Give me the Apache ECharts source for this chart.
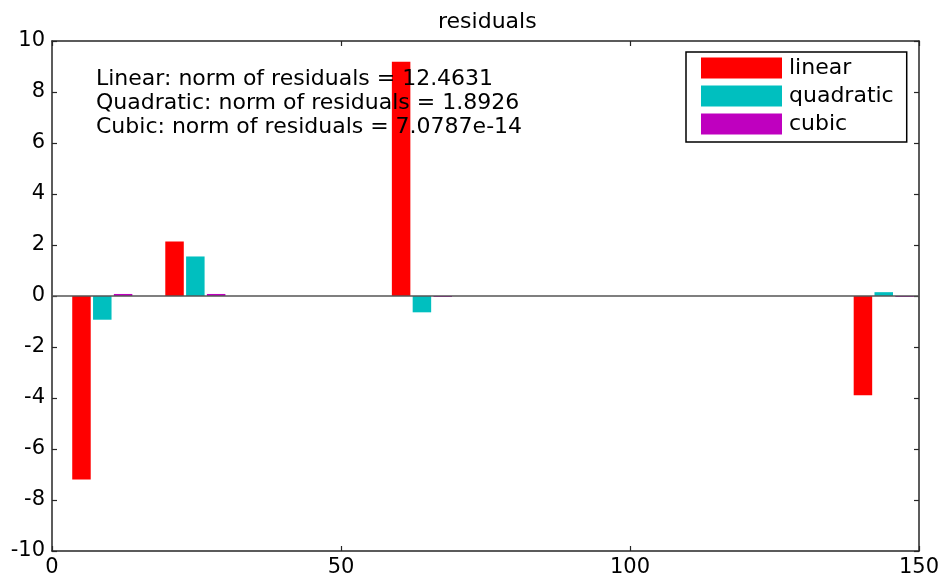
<!DOCTYPE html>
<html>
<head>
<meta charset="utf-8">
<script src="https://cdn.jsdelivr.net/npm/echarts@6/dist/echarts.min.js"></script>
<style>
  html, body { margin: 0; padding: 0; background: #fff; }
  #chart { width: 945px; height: 578px; }
</style>
</head>
<body>
<div id="chart"></div>
<script>
// Residuals of three polynomial fits at four sample locations
const fitNames = ['linear', 'quadratic', 'cubic'];
const fitColors = ['#ff0000', '#00bfbf', '#bf00bf'];
const xPositions = [8.7, 24.8, 64.0, 143.9];
const linearRes = [-7.2, 2.14, 9.19, -3.89];
const quadraticRes = [-0.93, 1.55, -0.64, 0.15];
const cubicRes = [0.08, 0.08, -0.04, -0.04];
const normLines = [
  'Linear: norm of residuals = 12.4631',
  'Quadratic: norm of residuals = 1.8926',
  'Cubic: norm of residuals = 7.0787e-14'
];
const titleText = 'residuals';

const FONT = 'DejaVu Sans';
const GROUP_STEP = 3.6;   // spacing between bars inside a group (x units)
const BAR_W = 3.2;        // bar width (x units)
const AXIS_COLOR = '#262626';

const allRes = [linearRes, quadraticRes, cubicRes];

function makeRender(idx) {
  const offset = (idx - 1) * GROUP_STEP;
  return function (params, api) {
    const x = api.value(0) + offset;
    const y = api.value(1);
    const a = api.coord([x - BAR_W / 2, 0]);
    const b = api.coord([x + BAR_W / 2, y]);
    return {
      type: 'rect',
      shape: {
        x: a[0],
        y: Math.min(a[1], b[1]),
        width: b[0] - a[0],
        height: Math.max(Math.abs(b[1] - a[1]), 1)
      },
      style: api.style()
    };
  };
}

const series = fitNames.map((name, i) => ({
  name: name,
  type: 'custom',
  renderItem: makeRender(i),
  xAxisIndex: 0,
  yAxisIndex: 0,
  encode: { x: 0, y: 1 },
  itemStyle: { color: fitColors[i] },
  emphasis: { disabled: true },
  data: xPositions.map((x, k) => [x, allRes[i][k]])
}));

// bar baseline
series[2].markLine = {
  silent: true,
  symbol: ['none', 'none'],
  label: { show: false },
  emphasis: { disabled: true },
  lineStyle: { color: '#555', width: 1.5, type: 'solid' },
  data: [{ yAxis: 0 }]
};

const tickStyle = { show: true, inside: true, length: 5, lineStyle: { color: AXIS_COLOR, width: 1.2 } };
const lineStyle = { show: true, onZero: false, lineStyle: { color: AXIS_COLOR, width: 1.5 } };

const option = {
  animation: false,
  backgroundColor: '#fff',
  textStyle: { fontFamily: FONT },
  title: {
    text: titleText,
    left: 433,
    top: 6,
    textStyle: { fontFamily: FONT, fontSize: 22, fontWeight: 'normal', color: '#000' }
  },
  legend: {
    orient: 'vertical',
    left: 686,
    top: 52,
    padding: [5, 13, 7, 15],
    borderColor: '#000',
    borderWidth: 1.5,
    itemWidth: 81,
    itemHeight: 21,
    itemGap: 6,
    selectedMode: false,
    data: fitNames.map(n => ({ name: n, icon: 'rect' })),
    textStyle: { fontFamily: FONT, fontSize: 22, color: '#000', padding: [0, 0, 0, 2] }
  },
  grid: { left: 52, right: 26, top: 41, bottom: 25, containLabel: false },
  xAxis: [
    {
      type: 'value', min: 0, max: 150, interval: 50, position: 'bottom',
      axisLine: lineStyle, axisTick: tickStyle, splitLine: { show: false },
      axisLabel: { fontFamily: FONT, fontSize: 21, color: '#000', margin: 6 }
    },
    {
      type: 'value', min: 0, max: 150, interval: 50, position: 'top',
      axisLine: lineStyle, axisTick: tickStyle, splitLine: { show: false },
      axisLabel: { show: false }
    }
  ],
  yAxis: [
    {
      type: 'value', min: -10, max: 10, interval: 2, position: 'left',
      axisLine: lineStyle, axisTick: tickStyle, splitLine: { show: false },
      axisLabel: { fontFamily: FONT, fontSize: 21, color: '#000', margin: 7 }
    },
    {
      type: 'value', min: -10, max: 10, interval: 2, position: 'right',
      axisLine: lineStyle, axisTick: tickStyle, splitLine: { show: false },
      axisLabel: { show: false }
    }
  ],
  graphic: [
    {
      type: 'text',
      left: 96,
      top: 67,
      z: 100,
      silent: true,
      style: {
        text: normLines.join('\n'),
        font: '22px "' + FONT + '"',
        lineHeight: 24,
        fill: '#000'
      }
    }
  ],
  series: series
};

const chart = echarts.init(document.getElementById('chart'), null, { renderer: 'canvas' });
chart.setOption(option);
</script>
</body>
</html>
